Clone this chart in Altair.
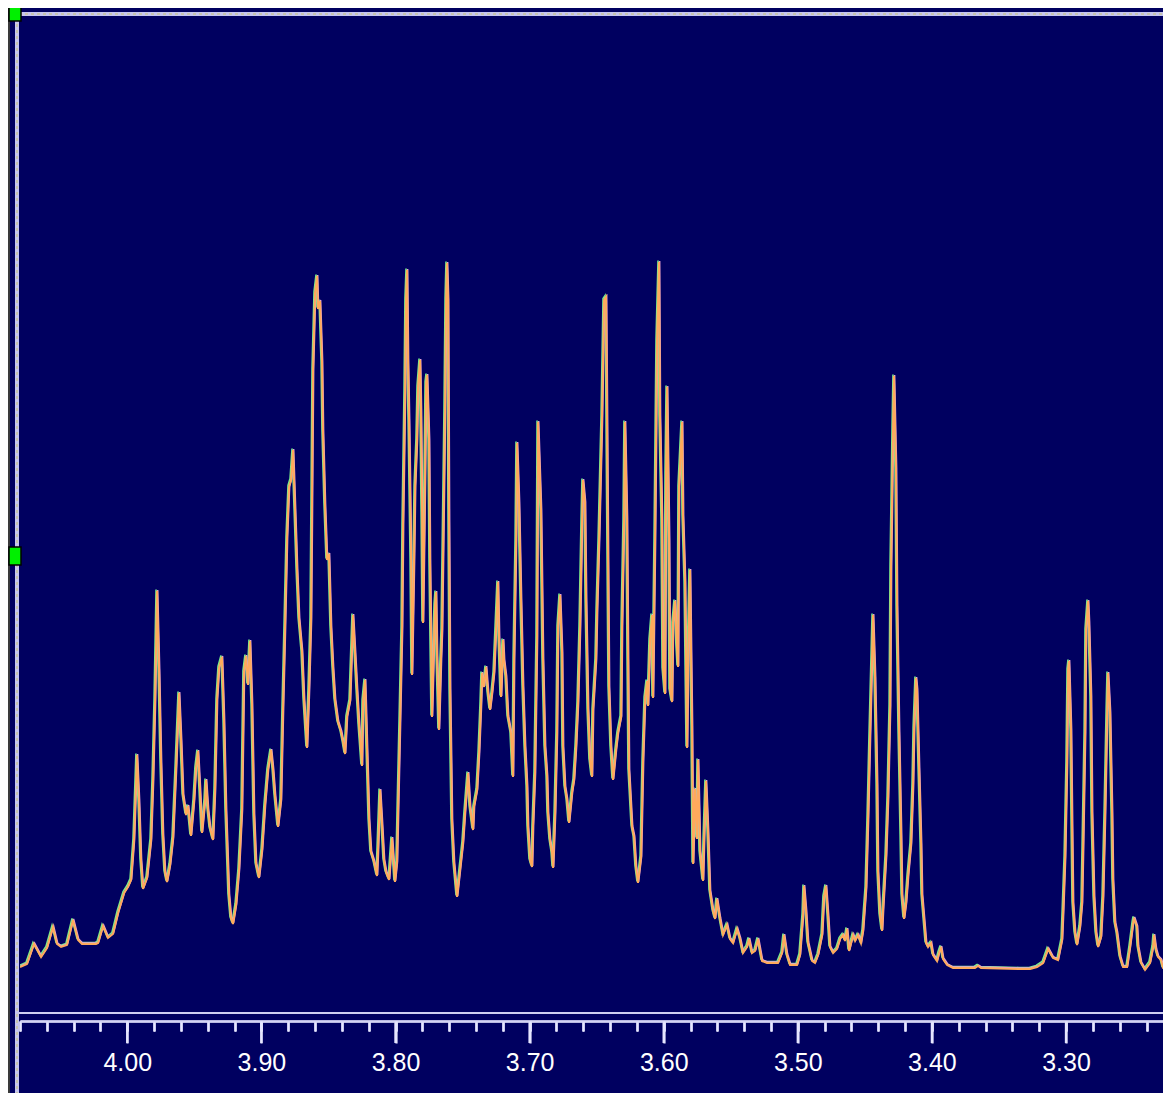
import altair as alt
import pandas as pd

# ---- spectrum (chemical shift in ppm, intensity in arbitrary units) ----
# region A : 4.08 - 3.89 ppm
ppm_a = [4.0800, 4.0748, 4.0696, 4.0643, 4.0599, 4.0554, 4.0524, 4.0494, 4.0450, 4.0405,
         4.0367, 4.0338, 4.0233, 4.0218, 4.0181, 4.0144, 4.0107, 4.0069, 4.0024, 3.9995,
         3.9972, 3.9950, 3.9928, 3.9913, 3.9898, 3.9883, 3.9853, 3.9823, 3.9808, 3.9793,
         3.9778, 3.9763, 3.9749, 3.9734, 3.9719, 3.9704, 3.9681, 3.9659, 3.9637, 3.9614,
         3.9599, 3.9584, 3.9562, 3.9547, 3.9525, 3.9502, 3.9488, 3.9473, 3.9458, 3.9443,
         3.9420, 3.9413, 3.9398, 3.9383, 3.9361, 3.9346, 3.9331, 3.9316, 3.9294, 3.9279,
         3.9264, 3.9242, 3.9227, 3.9212, 3.9189, 3.9167, 3.9145, 3.9130, 3.9115, 3.9100,
         3.9085, 3.9070, 3.9055, 3.9040, 3.9018, 3.8995, 3.8973, 3.8951, 3.8928]
int_a = [3, 6, 26, 13, 22, 43, 26, 23, 25, 50,
         30, 26, 26, 27, 44, 32, 36, 57, 77, 83,
         90, 130, 215, 170, 110, 81, 92, 130, 190, 270,
         379, 300, 210, 135, 98, 88, 105, 132, 200, 277,
         230, 175, 155, 164, 134, 170, 202, 219, 180, 137,
         170, 190, 160, 142, 130, 180, 270, 302, 313, 250,
         160, 75, 52, 46, 65, 100, 160, 298, 314, 285,
         329, 265, 155, 106, 92, 120, 165, 200, 220]

# region B : 3.89 - 3.75 ppm
ppm_b = [3.8913, 3.8899, 3.8876, 3.8854, 3.8839, 3.8824, 3.8809, 3.8794, 3.8779, 3.8764,
         3.8749, 3.8734, 3.8719, 3.8697, 3.8682, 3.8660, 3.8645, 3.8630, 3.8623, 3.8615,
         3.8600, 3.8585, 3.8578, 3.8563, 3.8548, 3.8541, 3.8526, 3.8511, 3.8496, 3.8481,
         3.8466, 3.8451, 3.8429, 3.8406, 3.8391, 3.8376, 3.8362, 3.8339, 3.8317, 3.8302,
         3.8287, 3.8272, 3.8250, 3.8242, 3.8227, 3.8212, 3.8197, 3.8183, 3.8160, 3.8138,
         3.8130, 3.8115, 3.8101, 3.8086, 3.8071, 3.8048, 3.8026, 3.8011, 3.8004, 3.7989,
         3.7981, 3.7966, 3.7951, 3.7944, 3.7929, 3.7922, 3.7914, 3.7907, 3.7899, 3.7884,
         3.7877, 3.7862, 3.7854, 3.7840, 3.7832, 3.7817, 3.7810, 3.7802, 3.7795, 3.7780,
         3.7772, 3.7765, 3.7750, 3.7743, 3.7728, 3.7713, 3.7705, 3.7698, 3.7690, 3.7676,
         3.7661, 3.7653, 3.7646, 3.7631, 3.7623, 3.7616, 3.7608, 3.7601, 3.7593, 3.7579,
         3.7564, 3.7541]
int_b = [200, 175, 143, 170, 261, 343, 432, 483, 490, 520,
         460, 400, 351, 318, 270, 222, 280, 351, 465, 600,
         677, 694, 661, 669, 608, 539, 465, 410, 416, 343,
         302, 270, 248, 238, 228, 216, 253, 269, 355, 318,
         280, 245, 204, 269, 290, 220, 150, 118, 108, 94,
         122, 180, 147, 110, 98, 90, 132, 102, 88, 108,
         159, 249, 343, 445, 579, 670, 700, 610, 550, 410,
         295, 410, 483, 530, 583, 610, 557, 457, 347, 493,
         587, 595, 530, 410, 253, 330, 365, 378, 313, 240,
         310, 340, 410, 560, 670, 707, 670, 450, 280, 150,
         107, 73]

# region C : 3.75 - 3.53 ppm
ppm_c = [3.7519, 3.7497, 3.7482, 3.7459, 3.7444, 3.7422, 3.7415, 3.7392, 3.7377, 3.7362,
         3.7355, 3.7340, 3.7325, 3.7310, 3.7295, 3.7280, 3.7265, 3.7250, 3.7236, 3.7228,
         3.7213, 3.7198, 3.7191, 3.7176, 3.7161, 3.7139, 3.7124, 3.7116, 3.7101, 3.7094,
         3.7079, 3.7064, 3.7049, 3.7034, 3.7019, 3.7012, 3.6997, 3.6982, 3.6975, 3.6960,
         3.6945, 3.6937, 3.6915, 3.6900, 3.6885, 3.6870, 3.6863, 3.6848, 3.6833, 3.6825,
         3.6810, 3.6796, 3.6788, 3.6773, 3.6758, 3.6751, 3.6736, 3.6721, 3.6706, 3.6684,
         3.6669, 3.6654, 3.6639, 3.6624, 3.6609, 3.6602, 3.6587, 3.6579, 3.6564, 3.6550,
         3.6535, 3.6527, 3.6505, 3.6497, 3.6482, 3.6460, 3.6445, 3.6430, 3.6423, 3.6415,
         3.6408, 3.6393, 3.6378, 3.6356, 3.6341, 3.6318, 3.6311, 3.6296, 3.6289, 3.6274,
         3.6266, 3.6259, 3.6236, 3.6221, 3.6207, 3.6192, 3.6169, 3.6154, 3.6139, 3.6124,
         3.6117, 3.6102, 3.6087, 3.6080, 3.6065, 3.6050, 3.6035, 3.6028, 3.6013, 3.6005,
         3.5990, 3.5983, 3.5975, 3.5960, 3.5953, 3.5938, 3.5931, 3.5916, 3.5901, 3.5893,
         3.5886, 3.5863, 3.5856, 3.5841, 3.5826, 3.5819, 3.5804, 3.5789, 3.5781, 3.5767,
         3.5752, 3.5744, 3.5729, 3.5707, 3.5699, 3.5685, 3.5670, 3.5655, 3.5632, 3.5617,
         3.5603, 3.5580, 3.5558, 3.5528, 3.5506, 3.5483, 3.5453, 3.5431, 3.5409, 3.5379,
         3.5364, 3.5342, 3.5319, 3.5297, 3.5267]
int_c = [100, 127, 157, 197, 163, 140, 163, 180, 217, 267,
         297, 283, 303, 277, 260, 277, 297, 343, 388, 333,
         273, 330, 310, 293, 253, 237, 193, 310, 430, 527,
         467, 370, 283, 223, 183, 143, 110, 103, 143, 197,
         333, 548, 460, 310, 223, 193, 157, 130, 117, 102,
         157, 237, 343, 375, 317, 223, 183, 170, 147, 177,
         190, 223, 267, 343, 450, 490, 467, 370, 260, 210,
         193, 260, 310, 360, 430, 553, 670, 673, 553, 407,
         283, 223, 190, 220, 237, 253, 343, 450, 548, 450,
         310, 200, 143, 133, 103, 87, 113, 210, 272, 289,
         264, 330, 355, 272, 430, 629, 708, 554, 450, 301,
         276, 496, 583, 430, 280, 268, 347, 369, 322, 303,
         483, 548, 454, 388, 222, 301, 400, 243, 106, 181,
         131, 210, 118, 89, 131, 189, 140, 79, 59, 51,
         71, 51, 35, 45, 31, 27, 41, 31, 17, 23,
         31, 17, 19, 31, 9]

# region D : 3.53 - 3.22 ppm
ppm_d = [3.5230, 3.5148, 3.5118, 3.5103, 3.5081, 3.5058, 3.5006, 3.4984, 3.4961, 3.4954,
         3.4939, 3.4924, 3.4894, 3.4872, 3.4849, 3.4819, 3.4805, 3.4790, 3.4775, 3.4760,
         3.4737, 3.4708, 3.4685, 3.4663, 3.4648, 3.4633, 3.4618, 3.4588, 3.4573, 3.4551,
         3.4529, 3.4514, 3.4491, 3.4476, 3.4462, 3.4447, 3.4439, 3.4424, 3.4409, 3.4402,
         3.4387, 3.4372, 3.4365, 3.4342, 3.4327, 3.4312, 3.4305, 3.4290, 3.4283, 3.4268,
         3.4260, 3.4245, 3.4230, 3.4223, 3.4208, 3.4193, 3.4178, 3.4156, 3.4141, 3.4133,
         3.4119, 3.4111, 3.4096, 3.4081, 3.4074, 3.4059, 3.4044, 3.4029, 3.4007, 3.3992,
         3.3962, 3.3947, 3.3932, 3.3917, 3.3887, 3.3843, 3.3679, 3.3656, 3.3634, 3.3343,
         3.3268, 3.3216, 3.3171, 3.3134, 3.3097, 3.3060, 3.3030, 3.3022, 3.3007, 3.2993,
         3.2985, 3.2978, 3.2963, 3.2955, 3.2948, 3.2933, 3.2918, 3.2896, 3.2881, 3.2873,
         3.2858, 3.2851, 3.2836, 3.2829, 3.2814, 3.2806, 3.2791, 3.2776, 3.2761, 3.2739,
         3.2724, 3.2709, 3.2694, 3.2687, 3.2672, 3.2657, 3.2650, 3.2635, 3.2620, 3.2597,
         3.2575, 3.2545, 3.2523, 3.2500, 3.2493, 3.2471, 3.2463, 3.2441, 3.2411, 3.2374,
         3.2351, 3.2344, 3.2329, 3.2314, 3.2292, 3.2277, 3.2217]
int_d = [7, 7, 17, 35, 15, 5, 5, 15, 55, 84,
         59, 27, 9, 7, 15, 35, 73, 84, 55, 23,
         17, 21, 31, 35, 29, 41, 19, 35, 29, 35,
         27, 39, 82, 154, 233, 312, 355, 292, 185, 98,
         55, 39, 59, 114, 173, 264, 403, 541, 594, 501,
         363, 237, 134, 75, 51, 67, 94, 126, 185, 241,
         292, 280, 201, 126, 75, 51, 27, 23, 27, 15,
         9, 17, 23, 11, 5, 2, 2, 4, 2, 1,
         1, 3, 7, 21, 12, 10, 30, 57, 113, 207,
         300, 309, 240, 143, 67, 37, 25, 43, 67, 123,
         237, 340, 369, 347, 273, 157, 73, 37, 23, 33,
         73, 157, 257, 297, 257, 157, 90, 47, 37, 13,
         3, 3, 23, 47, 52, 43, 23, 7, 0, 7,
         23, 35, 20, 13, 10, 2, 0]

# axis ticks (ppm): minor every 0.02 ppm, major (labelled) every 0.10 ppm
minor_ticks = [4.08, 4.06, 4.04, 4.02, 4.00, 3.98, 3.96, 3.94, 3.92, 3.90,
               3.88, 3.86, 3.84, 3.82, 3.80, 3.78, 3.76, 3.74, 3.72, 3.70,
               3.68, 3.66, 3.64, 3.62, 3.60, 3.58, 3.56, 3.54, 3.52, 3.50,
               3.48, 3.46, 3.44, 3.42, 3.40, 3.38, 3.36, 3.34, 3.32, 3.30,
               3.28, 3.26, 3.24]
major_ticks = [4.00, 3.90, 3.80, 3.70, 3.60, 3.50, 3.40, 3.30]

ppm_all = ppm_a + ppm_b + ppm_c + ppm_d
int_all = int_a + int_b + int_c + int_d
n = min(len(ppm_all), len(int_all))
df = pd.DataFrame({"ppm": ppm_all[:n], "intensity": int_all[:n], "i": list(range(n))})
major_df = pd.DataFrame({"ppm": major_ticks})

W, H = 1143, 996
BG = "#000060"
TICK = "#E6E6FF"

x_scale = alt.Scale(domain=[4.08, 3.2277], nice=False, zero=False)
y_scale = alt.Scale(domain=[-43, 953], nice=False, zero=False)

minor_axis = alt.Axis(
    values=minor_ticks, orient="bottom", offset=8, title=None, grid=False,
    domain=True, domainColor="#D4D4F4", domainWidth=2,
    ticks=True, tickColor=TICK, tickWidth=2, tickSize=10,
    labels=False, zindex=1,
)
major_axis = alt.Axis(
    values=major_ticks, orient="bottom", offset=8, title=None, grid=False,
    domain=False,
    ticks=True, tickColor=TICK, tickWidth=2.2, tickSize=22, tickOpacity=1,
    format=".2f",
    labelColor="#FFFFFF",
    labelFont="Liberation Sans",
    labelFontSize=25,
    labelBaseline="middle",
    labelPadding=19,
    labelOverlap=False,
    labelFlush=False,
    labelBound=False,
    zindex=2,
)

enc_y = alt.Y("intensity:Q", scale=y_scale, axis=None)

green = alt.Chart(df).mark_line(color="#7CEB8A", strokeWidth=1.6, xOffset=-1, yOffset=-1.5, clip=True).encode(
    x=alt.X("ppm:Q", scale=x_scale, axis=minor_axis), y=enc_y, order="i:Q")
pink = alt.Chart(df).mark_line(color="#E7A2D4", strokeWidth=1.4, xOffset=0.7, yOffset=-1, clip=True).encode(
    x=alt.X("ppm:Q", scale=x_scale, axis=minor_axis), y=enc_y, order="i:Q")
orange = alt.Chart(df).mark_line(color="#FFAA5C", strokeWidth=2.0, clip=True).encode(
    x=alt.X("ppm:Q", scale=x_scale, axis=major_axis), y=enc_y, order="i:Q")

# long tick marks under the major (labelled) values, drawn below the axis line
major_marks = alt.Chart(major_df).mark_rule(color=TICK, strokeWidth=2.4).encode(
    x=alt.X("ppm:Q", scale=x_scale, axis=minor_axis),
    y=alt.value(H + 8),
    y2=alt.value(H + 30),
)

one = pd.DataFrame({"k": [0]})
lav = "#C6C6EE"
frame = [
    # dark left edge
    alt.Chart(one).mark_rule(color="#3A3A3A", strokeWidth=2).encode(
        x=alt.value(-11), y=alt.value(-9), y2=alt.value(1076)),
    # left double line
    alt.Chart(one).mark_rule(color=lav, strokeWidth=4).encode(
        x=alt.value(-3), y=alt.value(-5), y2=alt.value(1076)),
    alt.Chart(one).mark_rule(color="#C9C46E", strokeWidth=1, strokeDash=[3, 3]).encode(
        x=alt.value(-3), y=alt.value(-5), y2=alt.value(1076)),
    # top double line
    alt.Chart(one).mark_rule(color=lav, strokeWidth=4).encode(
        x=alt.value(-5), x2=alt.value(1152), y=alt.value(-3)),
    alt.Chart(one).mark_rule(color="#C9C46E", strokeWidth=1, strokeDash=[3, 3]).encode(
        x=alt.value(-1), x2=alt.value(1152), y=alt.value(-3)),
    # bottom border of the spectrum window
    alt.Chart(one).mark_rule(color="#CFCFF2", strokeWidth=2).encode(
        x=alt.value(-1), x2=alt.value(1152), y=alt.value(H)),
]
handle_top = alt.Chart(one).mark_rect(color="#00F000", stroke="#000000", strokeWidth=1.5).encode(
    x=alt.value(-11), x2=alt.value(1), y=alt.value(-14), y2=alt.value(4))
handle_mid = alt.Chart(one).mark_rect(color="#00F000", stroke="#000000", strokeWidth=1.5).encode(
    x=alt.value(-11), x2=alt.value(1), y=alt.value(530), y2=alt.value(548))

chart = alt.layer(green, pink, orange, major_marks, *frame, handle_top, handle_mid).resolve_axis(
    x="independent"
).properties(
    width=W,
    height=H,
    background=BG,
    autosize=alt.AutoSizeParams(type="none"),
    padding={"left": 12, "top": 9, "right": 0, "bottom": 80},
).configure_view(stroke=None)

chart.save("out.html", embed_options={"renderer": "svg", "actions": False})
